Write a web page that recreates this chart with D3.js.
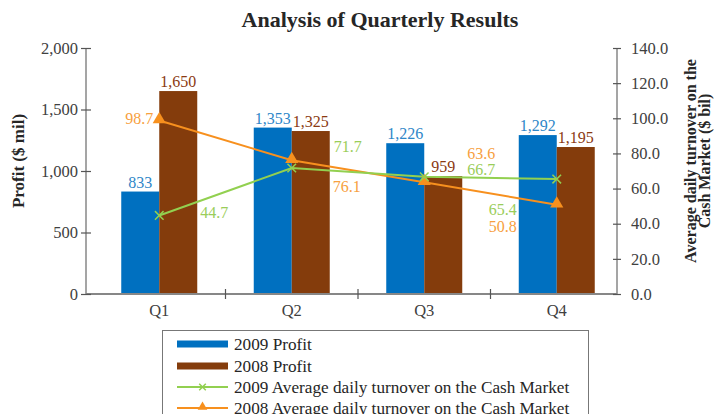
<!DOCTYPE html>
<html><head><meta charset="utf-8">
<script src="https://cdn.jsdelivr.net/npm/d3@7"></script>
<style>
body{margin:0;background:#fff;}
svg text{font-family:"Liberation Serif","DejaVu Serif",serif;}
</style></head>
<body><svg id="c" width="721" height="414"></svg>
<script>
// ---- data ----
const categories = ["Q1","Q2","Q3","Q4"];
const profit2009 = [833, 1353, 1226, 1292];
const profit2008 = [1650, 1325, 959, 1195];
const turnover2009 = [44.7, 71.7, 66.7, 65.4];
const turnover2008 = [98.7, 76.1, 63.6, 50.8];
const leftTicks = [0, 500, 1000, 1500, 2000];
const rightTicks = [0, 20, 40, 60, 80, 100, 120, 140];
const seriesNames = ["2009 Profit","2008 Profit","2009 Average daily turnover on the Cash Market","2008 Average daily turnover on the Cash Market"];

// ---- style ----
const C = {blue:"#0070C0", brown:"#843C0C", green:"#92D050", orange:"#F7901E",
           blueLbl:"#2E86C8", brownLbl:"#8B3A12", greenLbl:"#9ACD5A", orangeLbl:"#F7A040",
           axis:"#878787", text:"#404040"};
// label offsets (px) for line data labels, relative to point
const greenLblOff = [[41,-3,"start"],[42,-22,"start"],[43,-7,"start"],[-40,30,"end"]];
const orangeLblOff = [[-6,-2,"end"],[41,26,"start"],[43,-29,"start"],[-40,22,"end"]];

const svg = d3.select("#c");
const plotL = 86, plotR = 617, plotT = 48, plotB = 294;

const x = d3.scaleBand().domain(categories).range([93, 623]).paddingInner(0).paddingOuter(0);
const yL = d3.scaleLinear().domain([0, 2000]).range([plotB, plotT]);
const yR = d3.scaleLinear().domain([0, 140]).range([plotB, plotT]);
const barW = 38;

// title
svg.append("text").attr("x", 380).attr("y", 27).attr("text-anchor","middle")
  .attr("font-size", 22).attr("font-weight","bold").attr("fill","#262626")
  .text("Analysis of Quarterly Results");

// bars
const g = svg.append("g");
g.selectAll("rect.b9").data(profit2009).join("rect")
  .attr("x",(d,i)=>x(categories[i])+x.bandwidth()/2-barW).attr("width",barW)
  .attr("y",d=>yL(d)).attr("height",d=>plotB-yL(d)).attr("fill",C.blue);
g.selectAll("rect.b8").data(profit2008).join("rect")
  .attr("x",(d,i)=>x(categories[i])+x.bandwidth()/2).attr("width",barW)
  .attr("y",d=>yL(d)).attr("height",d=>plotB-yL(d)).attr("fill",C.brown);

// bar labels
const fmt = d3.format(",");
g.selectAll("text.l9").data(profit2009).join("text")
  .attr("x",(d,i)=>x(categories[i])+x.bandwidth()/2-barW/2).attr("y",d=>yL(d)-4)
  .attr("text-anchor","middle").attr("font-size",16).attr("fill",C.blueLbl).text(d=>fmt(d));
g.selectAll("text.l8").data(profit2008).join("text")
  .attr("x",(d,i)=>x(categories[i])+x.bandwidth()/2+barW/2).attr("y",d=>yL(d)-4)
  .attr("text-anchor","middle").attr("font-size",16).attr("fill",C.brownLbl).text(d=>fmt(d));

// axes
const axG = svg.append("g");
axG.append("line").attr("x1",plotL).attr("x2",plotL).attr("y1",plotT).attr("y2",plotB).attr("stroke",C.axis).attr("stroke-width",1.5);
axG.append("line").attr("x1",plotR).attr("x2",plotR).attr("y1",plotT).attr("y2",plotB).attr("stroke",C.axis).attr("stroke-width",1.5);
axG.append("line").attr("x1",plotL).attr("x2",plotR).attr("y1",plotB).attr("y2",plotB).attr("stroke",C.axis).attr("stroke-width",2);

// left axis
const la = svg.append("g").attr("transform",`translate(${plotL},0)`)
  .call(d3.axisLeft(yL).tickValues(leftTicks).tickFormat(d3.format(",")).tickSize(5).tickPadding(3));
la.select(".domain").remove();
la.selectAll(".tick line").attr("x1",5).attr("x2",-5).attr("stroke","#555").attr("stroke-width",1.2);
la.selectAll(".tick text").attr("font-size",16.5).attr("fill",C.text).attr("font-family","Liberation Serif").attr("dy","0.32em");

// right axis
const ra = svg.append("g").attr("transform",`translate(${plotR},0)`)
  .call(d3.axisRight(yR).tickValues(rightTicks).tickFormat(d3.format(".1f")).tickSize(4).tickPadding(10));
ra.select(".domain").remove();
ra.selectAll(".tick line").attr("x1",-4).attr("x2",4).attr("stroke","#555").attr("stroke-width",1.2);
ra.selectAll(".tick text").attr("font-size",16.5).attr("fill",C.text).attr("font-family","Liberation Serif").attr("dy","0.32em");

// bottom axis
const ba = svg.append("g").attr("transform",`translate(0,${plotB})`)
  .call(d3.axisBottom(x).tickSize(0).tickPadding(10));
ba.select(".domain").remove();
ba.selectAll(".tick text").attr("font-size",16.5).attr("fill",C.text).attr("font-family","Liberation Serif");
svg.append("g").selectAll("line").data(categories.slice(1)).join("line")
  .attr("x1",d=>x(d)).attr("x2",d=>x(d)).attr("y1",plotB-5).attr("y2",plotB+5)
  .attr("stroke","#555").attr("stroke-width",1.2);

// axis titles
svg.append("text").attr("transform","translate(24,161) rotate(-90)").attr("text-anchor","middle")
  .attr("font-size",17).attr("font-weight","bold").attr("fill","#262626").text("Profit ($ mil)");
const rt = svg.append("text").attr("transform","translate(696,161) rotate(-90)").attr("text-anchor","middle")
  .attr("font-size",16).attr("font-weight","bold").attr("fill","#262626");
rt.append("tspan").attr("x",0).attr("dy",0).text("Average daily turnover on the");
rt.append("tspan").attr("x",0).attr("dy",14).text("Cash Market ($ bil)");

// lines
const cx = i => x(categories[i]) + x.bandwidth()/2;
const lineR = d3.line().x((d,i)=>cx(i)).y(d=>yR(d));
svg.append("path").datum(turnover2008).attr("d",lineR).attr("fill","none").attr("stroke",C.orange).attr("stroke-width",2);
svg.append("path").datum(turnover2009).attr("d",lineR).attr("fill","none").attr("stroke",C.green).attr("stroke-width",2);

// markers
const tri = d3.symbol().type(d3.symbolTriangle).size(75);
svg.append("g").selectAll("path").data(turnover2008).join("path")
  .attr("d",tri).attr("transform",(d,i)=>`translate(${cx(i)},${yR(d)-1})`).attr("fill",C.orange);
const cross = d3.symbol().type(d3.symbolX).size(50);
svg.append("g").selectAll("path").data(turnover2009).join("path")
  .attr("d",cross).attr("transform",(d,i)=>`translate(${cx(i)},${yR(d)})`).attr("fill","none").attr("stroke",C.green).attr("stroke-width",1.5);

// line labels
svg.append("g").selectAll("text").data(turnover2009).join("text")
  .attr("x",(d,i)=>cx(i)+greenLblOff[i][0]).attr("y",(d,i)=>yR(d)+greenLblOff[i][1])
  .attr("dy","0.35em").attr("text-anchor",(d,i)=>greenLblOff[i][2])
  .attr("font-size",16).attr("fill",C.greenLbl).text(d=>d.toFixed(1));
svg.append("g").selectAll("text").data(turnover2008).join("text")
  .attr("x",(d,i)=>cx(i)+orangeLblOff[i][0]).attr("y",(d,i)=>yR(d)+orangeLblOff[i][1])
  .attr("dy","0.35em").attr("text-anchor",(d,i)=>orangeLblOff[i][2])
  .attr("font-size",16).attr("fill",C.orangeLbl).text(d=>d.toFixed(1));

// legend
const lg = svg.append("g");
lg.append("rect").attr("x",162.5).attr("y",330.5).attr("width",426).attr("height",100)
  .attr("fill","#fff").attr("stroke","#777").attr("stroke-width",1);
const rowY = [344, 366, 387, 408];
seriesNames.forEach((n,i)=>{
  const y0 = rowY[i];
  if (i<2){
    lg.append("rect").attr("x",177).attr("y",y0-3.5).attr("width",51).attr("height",7).attr("fill",i==0?C.blue:C.brown);
  } else {
    const col = i==2?C.green:C.orange;
    lg.append("line").attr("x1",177).attr("x2",228).attr("y1",y0).attr("y2",y0).attr("stroke",col).attr("stroke-width",2);
    if (i==2) lg.append("path").attr("d",d3.symbol().type(d3.symbolX).size(30)).attr("transform",`translate(202.5,${y0})`).attr("fill","none").attr("stroke",col).attr("stroke-width",1.5);
    else lg.append("path").attr("d",d3.symbol().type(d3.symbolTriangle).size(40)).attr("transform",`translate(202.5,${y0-1})`).attr("fill",col);
  }
  lg.append("text").attr("x",234).attr("y",y0).attr("dy","0.35em").attr("font-size",17.2).attr("fill","#262626").text(n);
});
</script></body></html>
